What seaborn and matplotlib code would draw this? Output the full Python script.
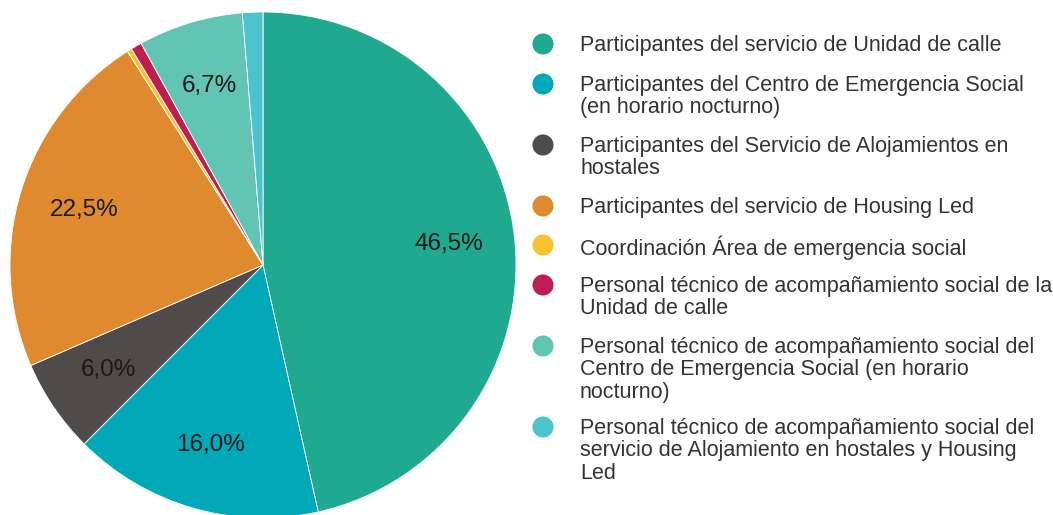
import seaborn as sns
import matplotlib.pyplot as plt

# data
categorias = [
    "Participantes del servicio de Unidad de calle",
    "Participantes del Centro de Emergencia Social\n(en horario nocturno)",
    "Participantes del Servicio de Alojamientos en\nhostales",
    "Participantes del servicio de Housing Led",
    "Coordinación Área de emergencia social",
    "Personal técnico de acompañamiento social de la\nUnidad de calle",
    "Personal técnico de acompañamiento social del\nCentro de Emergencia Social (en horario\nnocturno)",
    "Personal técnico de acompañamiento social del\nservicio de Alojamiento en hostales y Housing\nLed",
]
porcentajes = [46.5, 16.0, 6.0, 22.5, 0.3, 0.7, 6.7, 1.3]
colores = ["#20a991", "#00a8b8", "#4f4b4a", "#e08a2f", "#f8c22f", "#be1f51", "#62c4b3", "#4cc3cd"]

sns.set_theme(style="white")
plt.rcParams['font.family'] = ['Liberation Sans', 'DejaVu Sans']

W, H = 1053, 515
fig = plt.figure(figsize=(W / 100, H / 100), dpi=100)

# pie axes, centre ~ (263, 265) px, radius ~253 px
cx, cy, r = 263, 265, 253
ax = fig.add_axes([(cx - r) / W, (H - cy - r) / H, 2 * r / W, 2 * r / H])


def fmt(p):
    if p < 5:
        return ''
    return f"{p:.1f}".replace('.', ',') + '%'


wedges, texts, autotexts = ax.pie(
    porcentajes, colors=colores, startangle=90, counterclock=False,
    autopct=fmt, pctdistance=0.74,
    wedgeprops=dict(linewidth=0.6, edgecolor='white'),
    textprops=dict(fontsize=17.5, color='#1a1a1a'))
ax.set_xlim(-1, 1)
ax.set_ylim(-1, 1)
ax.axis('off')

# legend drawn in pixel coordinates
lax = fig.add_axes([0, 0, 1, 1])
lax.set_xlim(0, W)
lax.set_ylim(H, 0)
lax.axis('off')
filas_y = [44, 84, 145, 206, 245, 285, 346, 427]
for etiqueta, color, y in zip(categorias, colores, filas_y):
    lax.scatter([543], [y], s=230, color=color, edgecolors='none')
    lax.text(580, y - 9, etiqueta, fontsize=15.5, color='#333333',
             va='top', ha='left', linespacing=1.09)

fig.savefig('out.png', dpi=100)
